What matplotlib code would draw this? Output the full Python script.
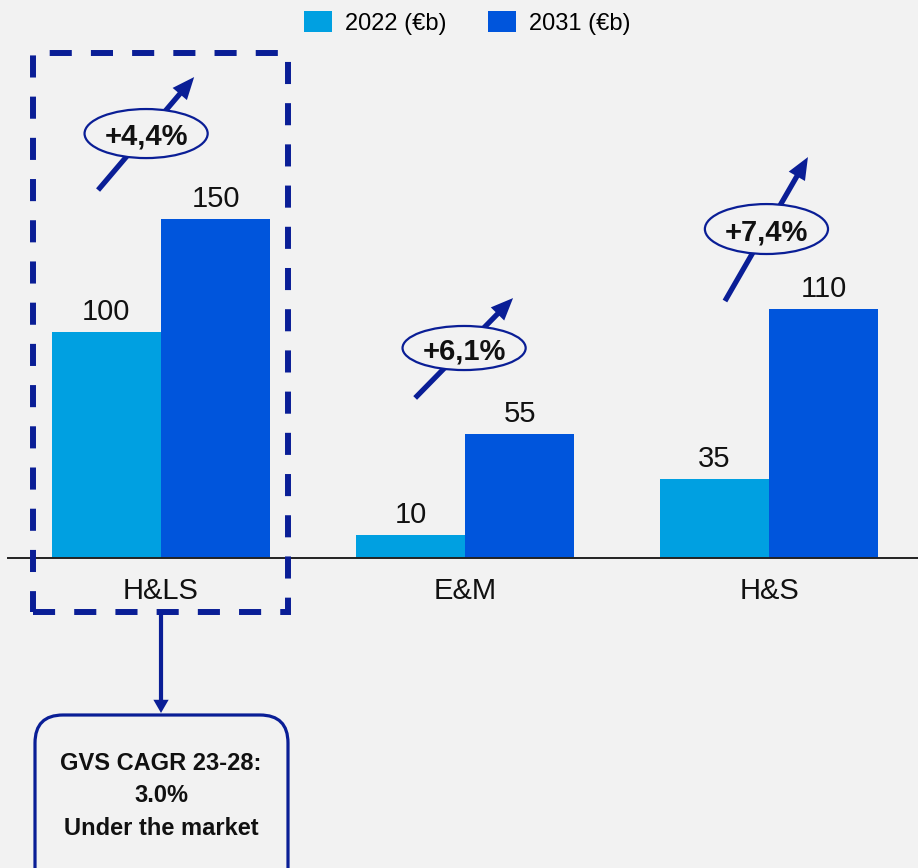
import matplotlib
matplotlib.use("Agg")
import matplotlib.pyplot as plt
from matplotlib.patches import Rectangle, Ellipse, FancyArrowPatch, FancyBboxPatch
import numpy as np

# Market size by segment
categories = ["H&LS", "E&M", "H&S"]
values_2022 = [100, 10, 35]
values_2031 = [150, 55, 110]
series_labels = ["2022 (€b)", "2031 (€b)"]
growth_labels = ["+4,4%", "+6,1%", "+7,4%"]
note_lines = ["GVS CAGR 23-28:", "3.0%", "Under the market"]

BG = "#f2f2f2"
C2022 = "#00a0e1"
C2031 = "#0055dc"
NAVY = "#0a1e96"

plt.rcParams["font.family"] = ["Liberation Sans", "DejaVu Sans"]

fig = plt.figure(figsize=(9.18, 8.68), dpi=100, facecolor=BG)
ax = fig.add_axes([0, 0, 1, 1])
ax.set_facecolor(BG)
ax.set_xlim(-0.5296, 2.490)
ax.set_ylim(-137.2, 246.9)

x = np.arange(len(categories))
w = 0.359
b1 = ax.bar(x - w / 2, values_2022, w, color=C2022, label=series_labels[0], zorder=2)
b2 = ax.bar(x + w / 2, values_2031, w, color=C2031, label=series_labels[1], zorder=2)

# value labels above each bar
for bars, vals in ((b1, values_2022), (b2, values_2031)):
    for rect, v in zip(bars, vals):
        ax.annotate(f"{v}", (rect.get_x() + rect.get_width() / 2, v),
                    xytext=(0, 8.6), textcoords="offset points",
                    ha="center", va="baseline", fontsize=21, color="#111111")

# category names under the baseline
for xi, cat in zip(x, categories):
    ax.annotate(cat, (xi, 0), xytext=(0, -29.5), textcoords="offset points",
                ha="center", va="baseline", fontsize=21, color="#111111")

# baseline and axis cleanup
for s in ("left", "right", "top"):
    ax.spines[s].set_visible(False)
ax.spines["bottom"].set_position(("data", 0))
ax.spines["bottom"].set_bounds(-0.503, 2.49)
ax.spines["bottom"].set_linewidth(1.4)
ax.spines["bottom"].set_color("#222222")
ax.set_xticks([])
ax.set_yticks([])

# growth arrows with CAGR bubbles (offsets relative to group centre)
arrow_tail = [(-0.207, 162.8), (-0.164, 70.8), (-0.145, 113.7)]
arrow_tip = [(0.109, 212.8), (0.158, 115.0), (0.128, 177.4)]
bubble_h = [21.7, 19.5, 22.1]
for xi, lab, (tx, ty), (hx, hy), bh in zip(x, growth_labels, arrow_tail, arrow_tip, bubble_h):
    arr = FancyArrowPatch((xi + tx, ty), (xi + hx, hy),
                          arrowstyle="simple,head_length=16,head_width=13.5,tail_width=3.8",
                          mutation_scale=1, lw=0, color=NAVY,
                          shrinkA=0, shrinkB=0, zorder=4)
    ax.add_patch(arr)
    cx, cy = xi + (tx + hx) / 2, (ty + hy) / 2
    ax.add_patch(Ellipse((cx, cy), 0.405, bh, facecolor=BG, edgecolor=NAVY,
                         lw=1.6, zorder=5))
    ax.annotate(lab, (cx, cy), xytext=(0, -8), textcoords="offset points",
                ha="center", va="baseline", fontsize=21, fontweight="bold",
                color="#111111", zorder=6)

# dashed highlight around the first segment
ax.add_patch(Rectangle((-0.421, -23.9), 0.839, 247.4, fill=False,
                       edgecolor=NAVY, lw=4.3, linestyle=(0, (3.7, 3.2)),
                       zorder=3, clip_on=False))

# connector down to the note box
ax.add_patch(FancyArrowPatch((0, -23.9), (0, -68.6),
                             arrowstyle="simple,head_length=9.5,head_width=11,tail_width=3",
                             mutation_scale=1, lw=0, color=NAVY,
                             shrinkA=0, shrinkB=0, zorder=4))

# note box (in inches so the corners stay round)
note = FancyBboxPatch((0.35, -0.5), 2.53, 2.03,
                      boxstyle="round,pad=0,rounding_size=0.28",
                      transform=fig.dpi_scale_trans, facecolor=BG,
                      edgecolor=NAVY, lw=2.3, zorder=4, clip_on=False)
ax.add_patch(note)
for line, y in zip(note_lines, (-93.8, -108.2, -122.6)):
    ax.text(0, y, line, ha="center", va="baseline", fontsize=17,
            fontweight="bold", color="#111111", zorder=5)

# legend
ax.legend(loc="center", bbox_to_anchor=(0.509, 0.9735), ncol=2, frameon=False,
          fontsize=17, handlelength=1.19, handleheight=0.97,
          handletextpad=0.55, columnspacing=1.75, borderpad=0,
          borderaxespad=0)

fig.savefig("out.png", dpi=100, facecolor=BG)
